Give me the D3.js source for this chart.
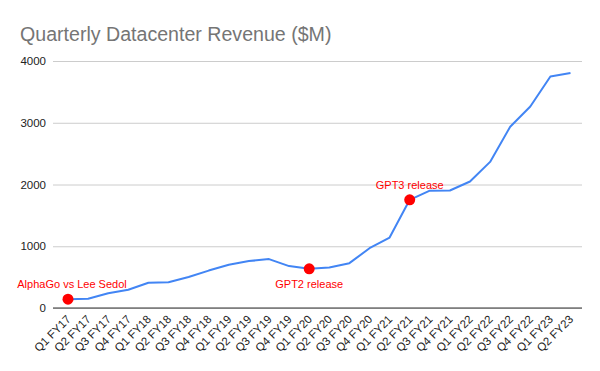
<!DOCTYPE html>
<html>
<head>
<meta charset="utf-8">
<script src="https://cdn.jsdelivr.net/npm/d3@7"></script>
<style>
  body { margin: 0; background: #fff; }
  text { font-family: Arial, "Liberation Sans", sans-serif; }
</style>
</head>
<body>
<div id="chart"></div>
<script>

const quarters = [
    "Q1 FY17", "Q2 FY17", "Q3 FY17", "Q4 FY17",
    "Q1 FY18", "Q2 FY18", "Q3 FY18", "Q4 FY18",
    "Q1 FY19", "Q2 FY19", "Q3 FY19", "Q4 FY19",
    "Q1 FY20", "Q2 FY20", "Q3 FY20", "Q4 FY20",
    "Q1 FY21", "Q2 FY21", "Q3 FY21", "Q4 FY21",
    "Q1 FY22", "Q2 FY22", "Q3 FY22", "Q4 FY22",
    "Q1 FY23", "Q2 FY23"
];

const revenue = [
    143, 151, 240, 296,
    409, 416, 501, 606,
    701, 760, 792, 679,
    634, 655, 726, 968,
    1141, 1752, 1900, 1903,
    2048, 2366, 2936, 3263,
    3750, 3806
];

const yTicks = [0, 1000, 2000, 3000, 4000];

const events = [
    { quarter: "Q1 FY17", label: "AlphaGo vs Lee Sedol", above: true },
    { quarter: "Q1 FY20", label: "GPT2 release", above: false },
    { quarter: "Q2 FY21", label: "GPT3 release", above: true }
];

function drawLineGraph() {

    const dimensions = {
        width: 600,
        height: 371,
        plot: { left: 53, right: 582, top: 61, bottom: 308 }
    };

    const data = quarters.map((q, i) => ({ quarter: q, value: revenue[i] }));

    const svg = d3.select("#chart")
        .append("svg")
        .attr("width", dimensions.width)
        .attr("height", dimensions.height);

    const xScale = d3.scalePoint()
        .domain(quarters)
        .range([68, 570.5]);

    const yScale = d3.scaleLinear()
        .domain([0, 4000])
        .range([dimensions.plot.bottom, dimensions.plot.top]);

    svg.append("text")
        .attr("x", 20)
        .attr("y", 41)
        .attr("fill", "#757575")
        .attr("font-size", 19.6)
        .text("Quarterly Datacenter Revenue ($M)");

    // gridlines + y labels
    const yAxis = d3.axisLeft(yScale)
        .tickValues(yTicks)
        .tickSize(-(dimensions.plot.right - dimensions.plot.left))
        .tickPadding(7)
        .tickFormat(d3.format("d"));

    const yAxisGroup = svg.append("g")
        .attr("transform", `translate(${dimensions.plot.left}, 0)`)
        .call(yAxis);

    yAxisGroup.select(".domain").remove();
    yAxisGroup.selectAll(".tick line")
        .attr("stroke", "#cccccc");
    yAxisGroup.selectAll(".tick text")
        .attr("fill", "#222")
        .attr("font-size", 11.5)
        .attr("font-family", "Arial, 'Liberation Sans', sans-serif");

    // x axis
    const xAxis = d3.axisBottom(xScale)
        .tickSize(0)
        .tickPadding(0);

    const xAxisGroup = svg.append("g")
        .attr("transform", `translate(0, ${dimensions.plot.bottom})`)
        .call(xAxis);

    xAxisGroup.select(".domain")
        .attr("d", `M${dimensions.plot.left},0H${dimensions.plot.right}`)
        .attr("stroke", "#333")
        .attr("stroke-width", 1);

    xAxisGroup.selectAll(".tick text")
        .attr("fill", "#222")
        .attr("font-size", 11.5)
        .attr("font-family", "Arial, 'Liberation Sans', sans-serif")
        .attr("text-anchor", "end")
        .attr("dy", null)
        .attr("y", 0)
        .attr("transform", "translate(3, 12) rotate(-45)");

    // line
    svg.append("path")
        .datum(data)
        .attr("fill", "none")
        .attr("stroke", "#4285f4")
        .attr("stroke-width", 2)
        .attr("stroke-linejoin", "round")
        .attr("d", d3.line()
            .x(d => xScale(d.quarter))
            .y(d => yScale(d.value))
        );

    // event markers
    const eventData = events.map(e => ({ ...e, value: revenue[quarters.indexOf(e.quarter)] }));

    svg.selectAll("circle.event")
        .data(eventData)
        .join("circle")
        .attr("class", "event")
        .attr("r", 5.5)
        .attr("fill", "#ff0000")
        .attr("cx", d => xScale(d.quarter))
        .attr("cy", d => yScale(d.value));

    svg.selectAll("text.event")
        .data(eventData)
        .join("text")
        .attr("class", "event")
        .attr("fill", "#ff0000")
        .attr("font-size", 11)
        .attr("text-anchor", "middle")
        .attr("x", d => xScale(d.quarter) + (d.quarter === "Q1 FY17" ? 4 : 0))
        .attr("y", d => yScale(d.value) + (d.above ? -11 : 19))
        .text(d => d.label);
}

drawLineGraph();
</script>
</body>
</html>
